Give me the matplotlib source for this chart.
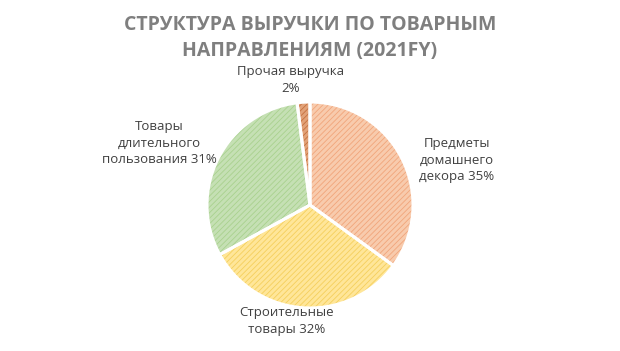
import matplotlib.pyplot as plt

plt.rcParams['font.family'] = ['Open Sans', 'DejaVu Sans']
plt.rcParams['hatch.linewidth'] = 0.6

categories = ["Предметы\nдомашнего\nдекора", "Строительные\nтовары",
              "Товары\nдлительного\nпользования", "Прочая выручка"]
shares = [35, 32, 31, 2]
fills = ["#F8CBAD", "#FFE699", "#C5E0B4", "#E2A278"]
hatch_colors = ["#F1A57A", "#F5CF5C", "#A9D18E", "#C5703E"]
label_xy = [(457, 191), (287, 30), (159, 208), (291, 271)]

fig = plt.figure(figsize=(6.2, 3.51), dpi=100)
ax = fig.add_axes([0, 0, 1, 1])

wedges, _ = ax.pie(shares, startangle=90, counterclock=False,
                   center=(310, 146), radius=103, colors=fills,
                   wedgeprops=dict(linewidth=0))
for w, hc in zip(wedges, hatch_colors):
    w.set_hatch('//////')
    w.set_edgecolor(hc)

ax.pie(shares, startangle=90, counterclock=False, center=(310, 146),
       radius=103, colors=['none'] * 4,
       wedgeprops=dict(linewidth=2.2, edgecolor='white'))

ax.set_xlim(0, 620)
ax.set_ylim(0, 351)
ax.set_aspect('equal')
ax.axis('off')

for name, share, (x, y) in zip(categories, shares, label_xy):
    sep = "\n" if share == 2 else " "
    ax.text(x, y, f"{name}{sep}{share}%", ha='center', va='center',
            fontsize=9.5, color='#404040', linespacing=1.35)

fig.text(0.5, 1 - 38 / 351, "СТРУКТУРА ВЫРУЧКИ ПО ТОВАРНЫМ\nНАПРАВЛЕНИЯМ (2021FY)",
         ha='center', va='center', fontsize=14, fontweight='bold',
         color='#7F7F7F', linespacing=1.38)

fig.savefig("out.png", dpi=100)
